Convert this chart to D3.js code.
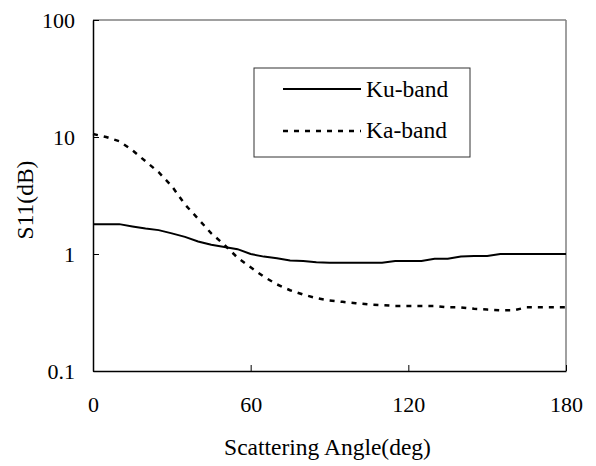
<!DOCTYPE html>
<html><head><meta charset="utf-8">
<script src="https://cdn.jsdelivr.net/npm/d3@7"></script>
<style>body{margin:0;background:#fff}svg{display:block}</style>
</head><body><svg id="c" width="596" height="466"></svg>
<script>
const angles = [0,5,10,15,20,25,30,35,40,45,50,55,60,65,70,75,80,85,90,95,100,105,110,115,120,125,130,135,140,145,150,155,160,165,170,175,180];
const kuBand = [1.8,1.8,1.8,1.72,1.65,1.6,1.5,1.4,1.28,1.2,1.15,1.1,1.0,0.95,0.92,0.88,0.87,0.85,0.84,0.84,0.84,0.84,0.84,0.87,0.87,0.87,0.91,0.91,0.95,0.96,0.96,1.0,1.0,1.0,1.0,1.0,1.0];
const kaBand = [10.6,10.0,9.2,7.7,6.2,5.0,3.8,2.65,2.0,1.5,1.2,0.93,0.77,0.64,0.55,0.49,0.45,0.42,0.40,0.39,0.38,0.37,0.365,0.36,0.36,0.36,0.36,0.35,0.35,0.34,0.335,0.33,0.33,0.35,0.35,0.35,0.35];
const xTicks = [0,60,120,180];
const yTicks = [0.1,1,10,100];
const yTickLabels = ["0.1","1","10","100"];
const seriesNames = ["Ku-band","Ka-band"];

const FONT = "'Liberation Serif', 'Times New Roman', Times, serif";
const FS = "22px";
const FS2 = "23.5px";
const L=93,R=566,T=20,B=371;
const svg=d3.select("#c");
const x=d3.scaleLinear().domain([0,180]).range([L,R]);
const y=d3.scaleLog().domain([0.1,100]).range([B,T]);

svg.append("line").attr("x1",L).attr("x2",R).attr("y1",T).attr("y2",T).attr("stroke","#808080").attr("stroke-width",1.5);
svg.append("line").attr("x1",R).attr("x2",R).attr("y1",T).attr("y2",B).attr("stroke","#808080").attr("stroke-width",1.5);

const xAxis=d3.axisBottom(x).tickValues(xTicks).tickSizeInner(-6).tickSizeOuter(0).tickPadding(25);
const gx=svg.append("g").attr("transform",`translate(0,${B})`).call(xAxis);
gx.attr("font-family",null).attr("font-size",null);
gx.select(".domain").attr("stroke","#000").attr("stroke-width",1.5);
gx.selectAll(".tick line").attr("stroke","#000").attr("stroke-width",1);
gx.selectAll(".tick text").style("font-family",FONT).style("font-size",FS).attr("fill","#000");

const yAxis=d3.axisLeft(y).tickValues(yTicks).tickFormat((d,i)=>yTickLabels[i]).tickSizeInner(-6).tickSizeOuter(0).tickPadding(18);
const gy=svg.append("g").attr("transform",`translate(${L},0)`).call(yAxis);
gy.attr("font-family",null).attr("font-size",null);
gy.select(".domain").attr("stroke","#000").attr("stroke-width",1.5);
gy.selectAll(".tick line").attr("stroke","#000").attr("stroke-width",1);
gy.selectAll(".tick text").style("font-family",FONT).style("font-size",FS).attr("fill","#000");

const line=d3.line().x((d,i)=>x(angles[i])).y(d=>y(d));
svg.append("path").datum(kuBand).attr("d",line).attr("fill","none").attr("stroke","#000").attr("stroke-width",2);
svg.append("path").datum(kaBand).attr("d",line).attr("fill","none").attr("stroke","#000").attr("stroke-width",2.5).attr("stroke-dasharray","5,6");

const txt=(sel,fs)=>sel.style("font-family",FONT).style("font-size",fs||FS2).attr("fill","#000");
txt(svg.append("text").attr("x",(L+R)/2-2).attr("y",455).attr("text-anchor","middle")).text("Scattering Angle(deg)");
txt(svg.append("text").attr("transform","translate(33,200) rotate(-90)").attr("text-anchor","middle")).text("S11(dB)");

const lg=svg.append("g");
lg.append("rect").attr("x",254).attr("y",68).attr("width",216).attr("height",89).attr("fill","#fff").attr("stroke","#333").attr("stroke-width",1);
lg.append("line").attr("x1",283).attr("x2",361).attr("y1",89).attr("y2",89).attr("stroke","#000").attr("stroke-width",2);
lg.append("line").attr("x1",283).attr("x2",361).attr("y1",131).attr("y2",131).attr("stroke","#000").attr("stroke-width",2.5).attr("stroke-dasharray","5,6");
txt(lg.append("text").attr("x",366).attr("y",97)).text(seriesNames[0]);
txt(lg.append("text").attr("x",366).attr("y",138)).text(seriesNames[1]);
</script></body></html>
